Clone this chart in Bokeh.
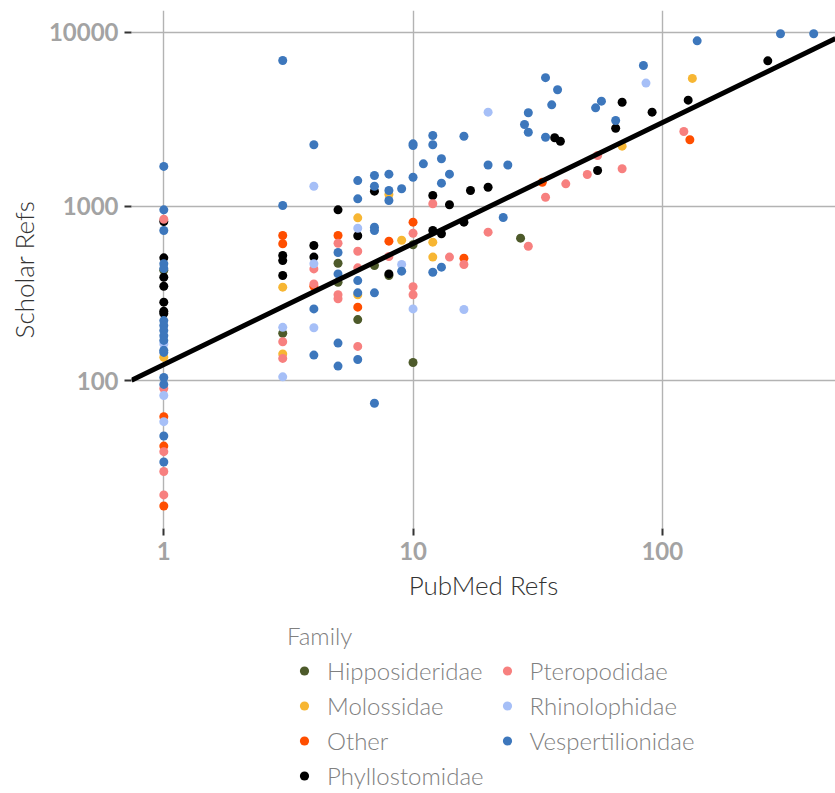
from bokeh.plotting import figure
from bokeh.layouts import column
from bokeh.models import Legend, LegendItem, NumeralTickFormatter
from bokeh.embed import file_html
from bokeh.resources import INLINE

# PubMed vs. Google Scholar reference counts per bat species, grouped by family
hipposideridae_pubmed = [1, 3, 5, 5, 6, 7, 8, 10, 10, 27]
hipposideridae_scholar = [430, 187, 472, 367, 224, 458, 401, 603, 127, 658]

molossidae_pubmed = [1, 3, 3, 6, 6, 8, 9, 12, 12, 69, 132]
molossidae_scholar = [136, 344, 142, 861, 311, 1172, 640, 624, 512, 2223, 5445]

other_pubmed = [1, 1, 1, 3, 3, 4, 5, 6, 8, 10, 16, 33, 129]
other_scholar = [62, 42, 19, 681, 611, 348, 681, 264, 632, 813, 505, 1379, 2417]

phyllostomidae_pubmed = [1, 1, 1, 1, 1, 1, 1, 3, 3, 3, 4, 4, 5, 6, 7, 8, 12, 12,
                         13, 14, 16, 17, 20, 37, 39, 55, 65, 69, 91, 127, 265]
phyllostomidae_scholar = [820, 507, 392, 348, 282, 250, 243, 523, 489, 401, 597, 512,
                          957, 679, 1225, 410, 1157, 728, 697, 1024, 813, 1236, 1291,
                          2483, 2371, 1611, 2817, 3975, 3485, 4085, 6870]

pteropodidae_pubmed = [1, 1, 1, 1, 1, 3, 3, 4, 4, 5, 5, 5, 6, 6, 6, 8, 10, 10, 10,
                       12, 14, 16, 20, 29, 34, 41, 50, 55, 69, 122]
pteropodidae_scholar = [845, 90, 39, 30, 22, 167, 134, 438, 359, 615, 311, 295, 553,
                        444, 157, 516, 702, 346, 311, 1037, 512, 464, 712, 591, 1131,
                        1350, 1528, 1963, 1648, 2698]

rhinolophidae_pubmed = [1, 1, 1, 3, 3, 4, 4, 4, 6, 9, 10, 16, 20, 86]
rhinolophidae_scholar = [162, 82, 58, 202, 105, 1308, 469, 201, 750, 464, 258, 256, 3485, 5120]

vespertilionidae_pubmed = [1, 1, 1, 1, 1, 1, 1, 1, 1, 1, 1, 1, 1, 1, 1, 1,
                           3, 3, 4, 4, 4, 5, 5, 5, 5, 6, 6, 6, 6, 6,
                           7, 7, 7, 7, 7, 7, 8, 8, 8, 9, 9, 10, 10, 10, 11,
                           12, 12, 12, 13, 13, 13, 14, 16, 20, 23, 24, 28, 29, 29,
                           34, 34, 36, 38, 54, 57, 65, 84, 138, 298, 405]
vespertilionidae_scholar = [1700, 957, 728, 469, 440, 221, 207, 194, 181, 170, 149, 145,
                            104, 95, 48, 34,
                            6900, 1014, 2263, 258, 140, 544, 410, 164, 121,
                            1409, 1107, 375, 319, 132,
                            1507, 1308, 761, 728, 319, 74, 1534, 1236, 1082, 1264, 425,
                            2291, 2240, 1473, 1758, 2559, 2263, 419, 1880, 1362, 448,
                            1534, 2534, 1733, 865, 1733, 2958, 3457, 2673,
                            2500, 5500, 3840, 4690, 3690, 4030, 3120, 6460, 8955, 9830, 9830]

families = ["Hipposideridae", "Molossidae", "Other", "Phyllostomidae",
            "Pteropodidae", "Rhinolophidae", "Vespertilionidae"]
family_colors = ["#4d5a2a", "#f7b633", "#ff4e00", "#000000",
                 "#f7807f", "#a6bff7", "#3d77bc"]
family_data = [
    (hipposideridae_pubmed, hipposideridae_scholar),
    (molossidae_pubmed, molossidae_scholar),
    (other_pubmed, other_scholar),
    (phyllostomidae_pubmed, phyllostomidae_scholar),
    (pteropodidae_pubmed, pteropodidae_scholar),
    (rhinolophidae_pubmed, rhinolophidae_scholar),
    (vespertilionidae_pubmed, vespertilionidae_scholar),
]

# power-law fit on log-log axes: scholar = FIT_AT_ONE * pubmed ** FIT_SLOPE
FIT_AT_ONE = 123.6
FIT_SLOPE = 0.695

x_ticks = [1, 10, 100]
y_ticks = [100, 1000, 10000]
X_MIN, X_MAX = 0.742, 495.3
Y_MIN, Y_MAX = 14.11, 13377

LIGHT = "'Lato Light', Lato"
WIDTH = 835
MAIN_HEIGHT = 610
LEGEND_HEIGHT = 183

p = figure(width=WIDTH, height=MAIN_HEIGHT, x_axis_type="log", y_axis_type="log",
           x_range=(X_MIN, X_MAX), y_range=(Y_MIN, Y_MAX),
           output_backend="svg", toolbar_location=None,
           min_border_left=131, min_border_right=0, min_border_top=10,
           min_border_bottom=82)
p.outline_line_color = None
p.background_fill_color = "white"
p.border_fill_color = "white"

for axis, ticks in ((p.xaxis, x_ticks), (p.yaxis, y_ticks)):
    axis.ticker = ticks
    axis.formatter = NumeralTickFormatter(format="0")
    axis.axis_line_color = None
    axis.major_tick_in = 0
    axis.major_tick_out = 7
    axis.minor_tick_in = 0
    axis.minor_tick_out = 0
    axis.major_tick_line_color = "#333333"
    axis.major_tick_line_width = 2
    axis.major_label_text_font = "Lato"
    axis.major_label_text_font_style = "bold"
    axis.major_label_text_font_size = "24px"
    axis.major_label_text_color = "#a3a3a3"
    axis.major_label_standoff = 6
    axis.axis_label_text_font = LIGHT
    axis.axis_label_text_font_style = "normal"
    axis.axis_label_text_font_size = "26px"
    axis.axis_label_text_color = "#333333"
    axis.axis_label_standoff = 6

p.xaxis.axis_label = "PubMed Refs"
p.yaxis.axis_label = "Scholar Refs"

for grid in (p.xgrid, p.ygrid):
    grid.grid_line_color = "#b3b3b3"
    grid.grid_line_width = 1.4
    grid.minor_grid_line_color = None

for color, (xs, ys) in zip(family_colors, family_data):
    p.scatter(xs, ys, size=9, fill_color=color, line_color=None)

fit_x = [X_MIN, X_MAX]
fit_y = [FIT_AT_ONE * xv ** FIT_SLOPE for xv in fit_x]
p.line(fit_x, fit_y, line_color="black", line_width=5)

# legend strip underneath the scatter plot; its unit ranges keep the
# family scatters out of view so that only their legend swatches show
leg = figure(width=WIDTH, height=LEGEND_HEIGHT, x_range=(0, 1), y_range=(0, 1),
             output_backend="svg", toolbar_location=None,
             min_border_left=0, min_border_right=0, min_border_top=0, min_border_bottom=0)
leg.axis.visible = False
leg.grid.visible = False
leg.outline_line_color = None
leg.background_fill_color = "white"
leg.border_fill_color = "white"

items = []
for name, color, (xs, ys) in zip(families, family_colors, family_data):
    r = leg.scatter(xs, ys, size=9, fill_color=color, line_color=None)
    items.append(LegendItem(label=name, renderers=[r]))

legend = Legend(items=items, title="Family", orientation="vertical", ncols=2,
                location=(156, 3))
legend.title_text_font = LIGHT
legend.title_text_font_style = "normal"
legend.title_text_font_size = "24px"
legend.title_text_color = "#808080"
legend.title_standoff = 6
legend.label_text_font = LIGHT
legend.label_text_font_size = "24px"
legend.label_text_color = "#808080"
legend.glyph_width = 34
legend.glyph_height = 23
legend.label_standoff = 6
legend.label_height = 23
legend.spacing = 6
legend.padding = 0
legend.margin = 0
legend.border_line_color = None
legend.background_fill_alpha = 0
leg.add_layout(legend, "center")

open("out.html", "w").write(file_html(column(p, leg, spacing=0), INLINE))
